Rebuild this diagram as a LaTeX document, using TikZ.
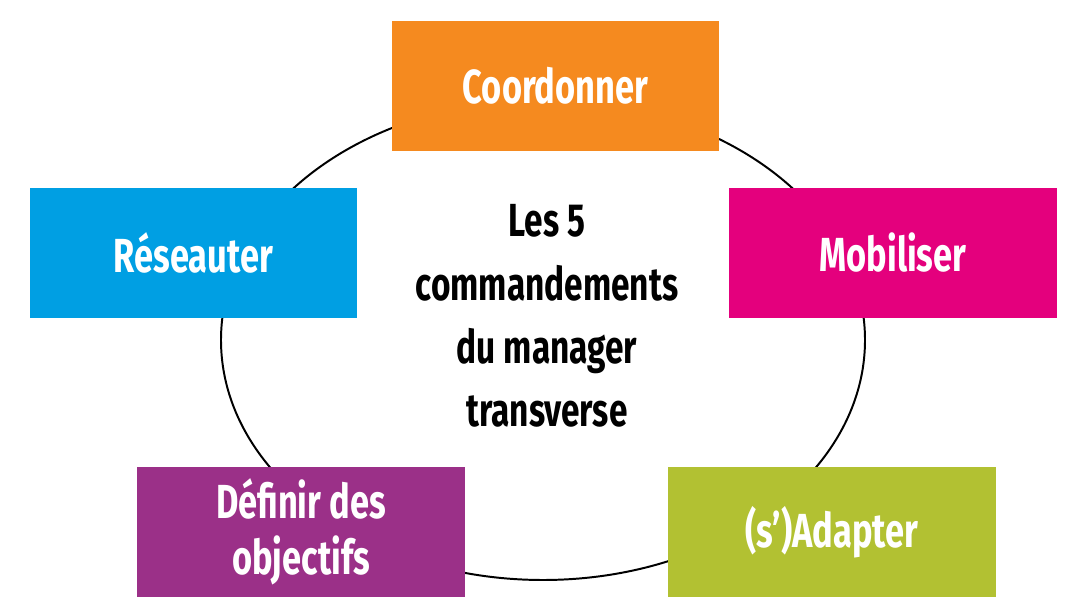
\documentclass[tikz,border=0pt]{standalone}
\usepackage{fontspec}
\setmainfont{Fira Sans}[FakeStretch=0.72]
\usepackage{tikz}
\usetikzlibrary{positioning}
\definecolor{cOrange}{RGB}{245,138,31}
\definecolor{cBlue}{RGB}{0,159,227}
\definecolor{cMagenta}{RGB}{228,0,125}
\definecolor{cPurple}{RGB}{155,48,136}
\definecolor{cGreen}{RGB}{178,193,50}
\tikzset{
  cmdbox/.style={rectangle, fill=#1, text=white, minimum width=8.175cm,
    minimum height=3.25cm, align=center, font=\fontsize{34}{40}\selectfont\bfseries,
    inner sep=0pt},
}
\begin{document}
\begin{tikzpicture}[x=0.025cm,y=-0.025cm]
    \useasboundingbox (0,0) rectangle (1081,616);
    % Ellipse behind the boxes
    \draw[line width=1.4pt] (543,340) ellipse [x radius=322, y radius=240];
    % Title in the middle
    \node[align=center, font=\fontsize{33}{45}\selectfont\bfseries] (title) at (547,316)
      {Les 5\\commandements\\du manager\\transverse};
    % The five boxes
    \node[cmdbox=cOrange] (coord) at (555.5,86) {Coordonner};
    \node[cmdbox=cBlue] (reseau) at (193.5,253) {Réseauter};
    \node[cmdbox=cMagenta] (mobil) at (893,253) {Mobiliser};
    \node[cmdbox=cPurple] (defin) at (301,532) {Définir des\\objectifs};
    \node[cmdbox=cGreen] (adapt) at (832,532) {(s’)Adapter};
\end{tikzpicture}
\end{document}
